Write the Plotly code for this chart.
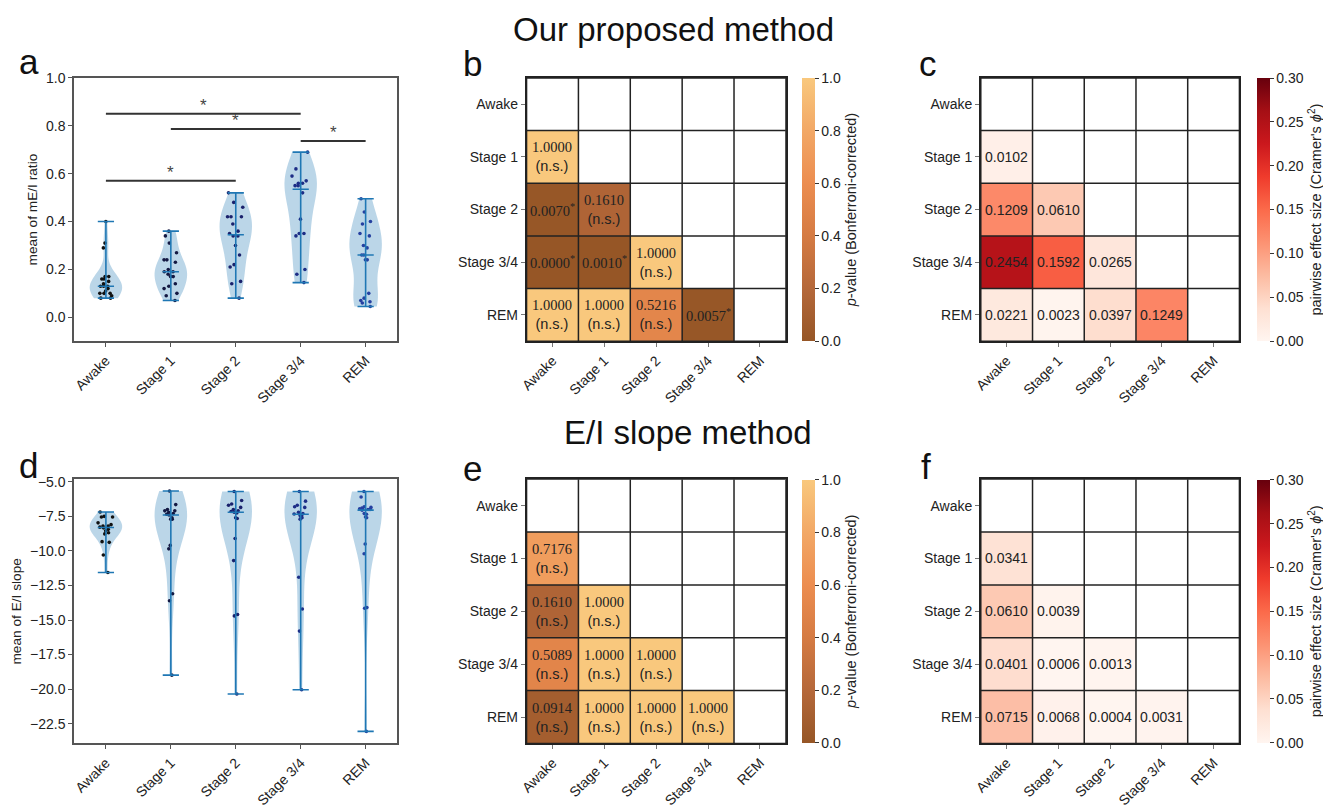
import numpy as np
import plotly.graph_objects as go

categories = ["Awake", "Stage 1", "Stage 2", "Stage 3/4", "REM"]

# ---- panel a: mean of mE/I ratio ----
mei_awake = [0.40, 0.31, 0.29, 0.17, 0.17, 0.16, 0.16, 0.15, 0.14, 0.13, 0.13,
             0.13, 0.12, 0.11, 0.10, 0.10, 0.10, 0.09, 0.08, 0.08]
mei_stage1 = [0.36, 0.34, 0.31, 0.27, 0.24, 0.23, 0.24, 0.20, 0.19, 0.19, 0.18,
              0.17, 0.17, 0.14, 0.13, 0.12, 0.10, 0.09, 0.07]
mei_stage2 = [0.52, 0.48, 0.46, 0.42, 0.42, 0.42, 0.39, 0.36, 0.35, 0.34, 0.34,
              0.30, 0.26, 0.22, 0.21, 0.15, 0.14, 0.08]
mei_stage34 = [0.69, 0.62, 0.59, 0.57, 0.56, 0.56, 0.55, 0.55, 0.52, 0.41, 0.35,
               0.35, 0.34, 0.20, 0.18, 0.145]
mei_rem = [0.495, 0.44, 0.40, 0.39, 0.35, 0.34, 0.30, 0.29, 0.26, 0.26, 0.24,
           0.24, 0.10, 0.08, 0.07, 0.065, 0.06, 0.045]

# significance bars in panel a (group index pairs and bar heights)
sig_pairs = [(0, 3), (1, 3), (3, 4), (0, 2)]
sig_heights = [0.850, 0.787, 0.737, 0.571]

# ---- panel d: mean of E/I slope ----
slope_awake = [-7.18, -7.5, -7.55, -7.55, -7.97, -8.1, -8.2, -8.2, -8.28, -8.33,
               -8.44, -8.54, -8.68, -8.77, -9.33, -9.38, -10.3, -11.56]
slope_stage1 = [-5.66, -6.65, -7.0, -7.1, -7.1, -7.2, -7.3, -7.35, -7.4, -7.6,
                -7.7, -7.7, -9.6, -9.85, -13.1, -13.6, -18.99]
slope_stage2 = [-5.7, -6.35, -6.6, -6.7, -6.85, -7.0, -7.1, -7.15, -7.2, -7.25,
                -7.6, -7.65, -9.1, -10.7, -14.6, -14.7, -20.35]
slope_stage34 = [-5.7, -6.4, -6.7, -6.8, -6.85, -7.2, -7.3, -7.33, -7.35, -7.45,
                 -7.5, -7.6, -7.7, -11.9, -14.2, -15.8, -20.04]
slope_rem = [-5.7, -6.1, -6.8, -6.85, -6.9, -6.95, -7.0, -7.0, -7.0, -7.05,
             -7.3, -7.35, -7.55, -7.6, -9.5, -10.2, -14.1, -14.15, -23.06]

# ---- pairwise p-values (lower triangle rows: Stage 1, Stage 2, Stage 3/4, REM) ----
p_ours = [[1.0000],
          [0.0070, 0.1610],
          [0.0000, 0.0010, 1.0000],
          [1.0000, 1.0000, 0.5216, 0.0057]]
p_slope = [[0.7176],
           [0.1610, 1.0000],
           [0.5089, 1.0000, 1.0000],
           [0.0914, 1.0000, 1.0000, 1.0000]]
# ---- pairwise effect sizes (Cramer's phi^2) ----
eff_ours = [[0.0102],
            [0.1209, 0.0610],
            [0.2454, 0.1592, 0.0265],
            [0.0221, 0.0023, 0.0397, 0.1249]]
eff_slope = [[0.0341],
             [0.0610, 0.0039],
             [0.0401, 0.0006, 0.0013],
             [0.0715, 0.0068, 0.0004, 0.0031]]

# ---------------- styling ----------------
W, H = 1323, 808
SANS = "Arial, Liberation Sans, sans-serif"
SERIF = "Times New Roman, Liberation Serif, serif"
TXT = "#222222"
VIOLIN_FILL = "rgba(31,119,180,0.30)"
VIOLIN_LINE = "#1f77b4"
POINT_COLORS = ["#111111", "#131842", "#19216c", "#1d2d86", "#2540a0"]
P_SCALE = [[0.0, "#965626"], [0.2, "#b5683a"], [0.4, "#d57b43"],
           [0.6, "#ec8d50"], [0.8, "#f2a866"], [1.0, "#f9c87d"]]
REDS = [[0.0, "#fff5f0"], [0.125, "#fee0d2"], [0.25, "#fcbba1"], [0.375, "#fc9272"],
        [0.5, "#fb6a4a"], [0.625, "#ef3b2c"], [0.75, "#cb181d"], [0.875, "#a50f15"],
        [1.0, "#67000d"]]


def px_x(a, b):
    return [a / W, b / W]


def px_y(top, bottom):
    return [1 - bottom / H, 1 - top / H]


dom_x_left = px_x(66.7, 393)
dom_x_mid = px_x(523.3, 785)
dom_x_right = px_x(981.7, 1242.7)
dom_y_top = px_y(72, 343)
dom_y_bot = px_y(485, 757)

fig = go.Figure()
annotations = []


def add_violin_panel(groups, xa, ya):
    # bodies
    for i, vals in enumerate(groups):
        v = np.asarray(vals, dtype=float)
        bw = np.std(v, ddof=1) * len(v) ** (-0.2)
        fig.add_trace(go.Violin(
            x=[i] * len(v), y=v, xaxis=xa, yaxis=ya, width=0.5, scalemode="width",
            spanmode="hard", bandwidth=bw, points=False, fillcolor=VIOLIN_FILL,
            line=dict(color="rgba(0,0,0,0)", width=0), showlegend=False,
            hoverinfo="skip"))
    # extrema bars and medians
    for i, vals in enumerate(groups):
        v = np.asarray(vals, dtype=float)
        lo, hi, med = v.min(), v.max(), np.median(v)
        fig.add_trace(go.Scatter(
            x=[i, i, None, i - 0.125, i + 0.125, None, i - 0.125, i + 0.125, None,
               i - 0.125, i + 0.125],
            y=[lo, hi, None, lo, lo, None, hi, hi, None, med, med],
            mode="lines", line=dict(color=VIOLIN_LINE, width=1.6),
            xaxis=xa, yaxis=ya, showlegend=False, hoverinfo="skip"))
    # points
    for i, vals in enumerate(groups):
        v = np.asarray(vals, dtype=float)
        fig.add_trace(go.Violin(
            x=[i] * len(v), y=v, xaxis=xa, yaxis=ya, width=0.5, scalemode="width",
            spanmode="hard", points="all", pointpos=0, jitter=0.55,
            fillcolor="rgba(0,0,0,0)", line=dict(color="rgba(0,0,0,0)", width=0),
            marker=dict(color=POINT_COLORS[i], size=3.6, line=dict(width=0)),
            showlegend=False, hoverinfo="skip"))


add_violin_panel([mei_awake, mei_stage1, mei_stage2, mei_stage34, mei_rem], "x", "y")
add_violin_panel([slope_awake, slope_stage1, slope_stage2, slope_stage34, slope_rem], "x4", "y4")

# significance bars (panel a)
for (g1, g2), h in zip(sig_pairs, sig_heights):
    fig.add_trace(go.Scatter(x=[g1, g2], y=[h, h], mode="lines",
                             line=dict(color="#333333", width=2),
                             xaxis="x", yaxis="y", showlegend=False, hoverinfo="skip"))
    annotations.append(dict(x=(g1 + g2) / 2, y=h, xref="x", yref="y", text="*",
                            showarrow=False, yanchor="bottom", yshift=-3,
                            font=dict(family=SANS, size=17, color="#444444")))


def lower_matrix(rows):
    n = len(categories)
    z = [[None] * n for _ in range(n)]
    for r, row in enumerate(rows):
        for c, val in enumerate(row):
            z[r + 1][c] = val
    return z


def p_label(v):
    if v < 0.05:
        return f"{v:.4f}<sup>*</sup>"
    return (f"{v:.4f}<br><span style='font-family:Liberation Sans, Arial'>(n.s.)</span>")


def cbar(xleft, ymid, title, dtick, fmt):
    return dict(x=xleft / W, xanchor="left", y=ymid, yanchor="middle",
                len=271 / H, lenmode="fraction", thickness=13, thicknessmode="pixels",
                xpad=0, ypad=0, outlinewidth=0, ticks="outside", ticklen=4,
                tickcolor="#333", dtick=dtick, tickformat=fmt,
                tickfont=dict(family=SANS, size=14, color=TXT),
                title=dict(text=title, side="right",
                           font=dict(family=SANS, size=14.5, color=TXT)))


ymid_top = 1 - (72 + 343) / 2 / H
ymid_bot = 1 - (485 + 757) / 2 / H
P_TITLE = "<i>p</i>-value (Bonferroni-corrected)"
E_TITLE = "pairwise effect size (Cramer's <i>ϕ</i><sup>2</sup>)"

idx = list(range(len(categories)))
heat_specs = [
    (p_ours, "x2", "y2", P_SCALE, 0, 1, 801.7, ymid_top, P_TITLE, 0.2, ".1f", "p"),
    (eff_ours, "x3", "y3", REDS, 0, 0.30, 1260, ymid_top, E_TITLE, 0.05, ".2f", "e"),
    (p_slope, "x5", "y5", P_SCALE, 0, 1, 801.7, ymid_bot, P_TITLE, 0.2, ".1f", "p"),
    (eff_slope, "x6", "y6", REDS, 0, 0.30, 1260, ymid_bot, E_TITLE, 0.05, ".2f", "e"),
]
shapes = []
for rows, xa, ya, cs, zmin, zmax, cbx, cby, ttl, dt, fmt, kind in heat_specs:
    z = lower_matrix(rows)
    fig.add_trace(go.Heatmap(
        z=z, x=idx, y=idx, xaxis=xa, yaxis=ya, colorscale=cs, zmin=zmin, zmax=zmax,
        colorbar=cbar(cbx, cby, ttl, dt, fmt), hoverinfo="skip"))
    for r, row in enumerate(z):
        for c, v in enumerate(row):
            if v is None:
                continue
            annotations.append(dict(
                x=c, y=r, xref=xa, yref=ya, showarrow=False,
                text=p_label(v) if kind == "p" else f"{v:.4f}",
                font=dict(family=SERIF if kind == "p" else SANS,
                          size=14.5 if kind == "p" else 14, color=TXT)))
    n = len(categories)
    for k in range(n + 1):
        shapes.append(dict(type="line", xref=xa, yref=ya, x0=k - 0.5, x1=k - 0.5,
                           y0=-0.5, y1=n - 0.5, line=dict(color="#222", width=1.5),
                           layer="above"))
        shapes.append(dict(type="line", xref=xa, yref=ya, y0=k - 0.5, y1=k - 0.5,
                           x0=-0.5, x1=n - 0.5, line=dict(color="#222", width=1.5),
                           layer="above"))

tickfont = dict(family=SANS, size=14, color=TXT)


def xax(domain, anchor):
    return dict(domain=domain, anchor=anchor, range=[-0.49, 4.49], tickvals=idx,
                ticktext=categories, tickangle=-45, ticks="outside", ticklen=4,
                tickcolor="#555", showline=True, linecolor="#555", linewidth=1.5,
                mirror=True, showgrid=False, zeroline=False, tickfont=tickfont)


def hxax(domain, anchor):
    d = xax(domain, anchor)
    d.update(range=[-0.5, 4.5], linecolor="#222", tickcolor="#777")
    return d


def hyax(domain, anchor):
    return dict(domain=domain, anchor=anchor, range=[4.5, -0.5], tickvals=idx,
                ticktext=categories, ticks="outside", ticklen=4, tickcolor="#777",
                showline=True, linecolor="#222", linewidth=1.5, mirror=True,
                showgrid=False, zeroline=False, tickfont=tickfont)


fig.update_layout(
    width=W, height=H, margin=dict(l=0, r=0, t=0, b=0),
    paper_bgcolor="white", plot_bgcolor="white", violinmode="overlay",
    showlegend=False, font=dict(family=SANS, color=TXT),
    xaxis=xax(dom_x_left, "y"),
    yaxis=dict(domain=dom_y_top, anchor="x", range=[-0.1, 1.0], dtick=0.2,
               tickformat=".1f", ticks="outside", ticklen=4, tickcolor="#555",
               showline=True, linecolor="#555", linewidth=1.5, mirror=True,
               showgrid=False, zeroline=False, tickfont=tickfont,
               title=dict(text="mean of mE/I ratio", font=dict(family=SANS, size=13.7),
                          standoff=5)),
    xaxis4=xax(dom_x_left, "y4"),
    yaxis4=dict(domain=dom_y_bot, anchor="x4", range=[-23.93, -4.81],
                tickvals=[-5.0, -7.5, -10.0, -12.5, -15.0, -17.5, -20.0, -22.5],
                tickformat=".1f", ticks="outside", ticklen=4, tickcolor="#555",
                showline=True, linecolor="#555", linewidth=1.5, mirror=True,
                showgrid=False, zeroline=False, tickfont=tickfont,
                title=dict(text="mean of E/I slope", font=dict(family=SANS, size=13.7),
                           standoff=5)),
    xaxis2=hxax(dom_x_mid, "y2"), yaxis2=hyax(dom_y_top, "x2"),
    xaxis3=hxax(dom_x_right, "y3"), yaxis3=hyax(dom_y_top, "x3"),
    xaxis5=hxax(dom_x_mid, "y5"), yaxis5=hyax(dom_y_bot, "x5"),
    xaxis6=hxax(dom_x_right, "y6"), yaxis6=hyax(dom_y_bot, "x6"),
    shapes=shapes,
)

letters = [("a", 21, 68), ("b", 469, 70), ("c", 928, 70),
           ("d", 21, 484), ("e", 469, 487), ("f", 926, 485)]
for t, xp, yp in letters:
    annotations.append(dict(text=t, x=xp / W, y=1 - yp / H, xref="paper", yref="paper",
                            showarrow=False, xanchor="center", yanchor="bottom",
                            yshift=-9, font=dict(family=SANS, size=35, color="#111")))
annotations.append(dict(text="Our proposed method", x=672 / W, y=1 - 22 / H, xref="paper",
                        yref="paper", showarrow=False, xanchor="center", yanchor="middle",
                        font=dict(family=SANS, size=33, color="#111")))
annotations.append(dict(text="E/I slope method", x=686 / W, y=1 - 437 / H, xref="paper",
                        yref="paper", showarrow=False, xanchor="center", yanchor="middle",
                        font=dict(family=SANS, size=33, color="#111")))
fig.update_layout(annotations=annotations)

fig.write_html("out.html")
